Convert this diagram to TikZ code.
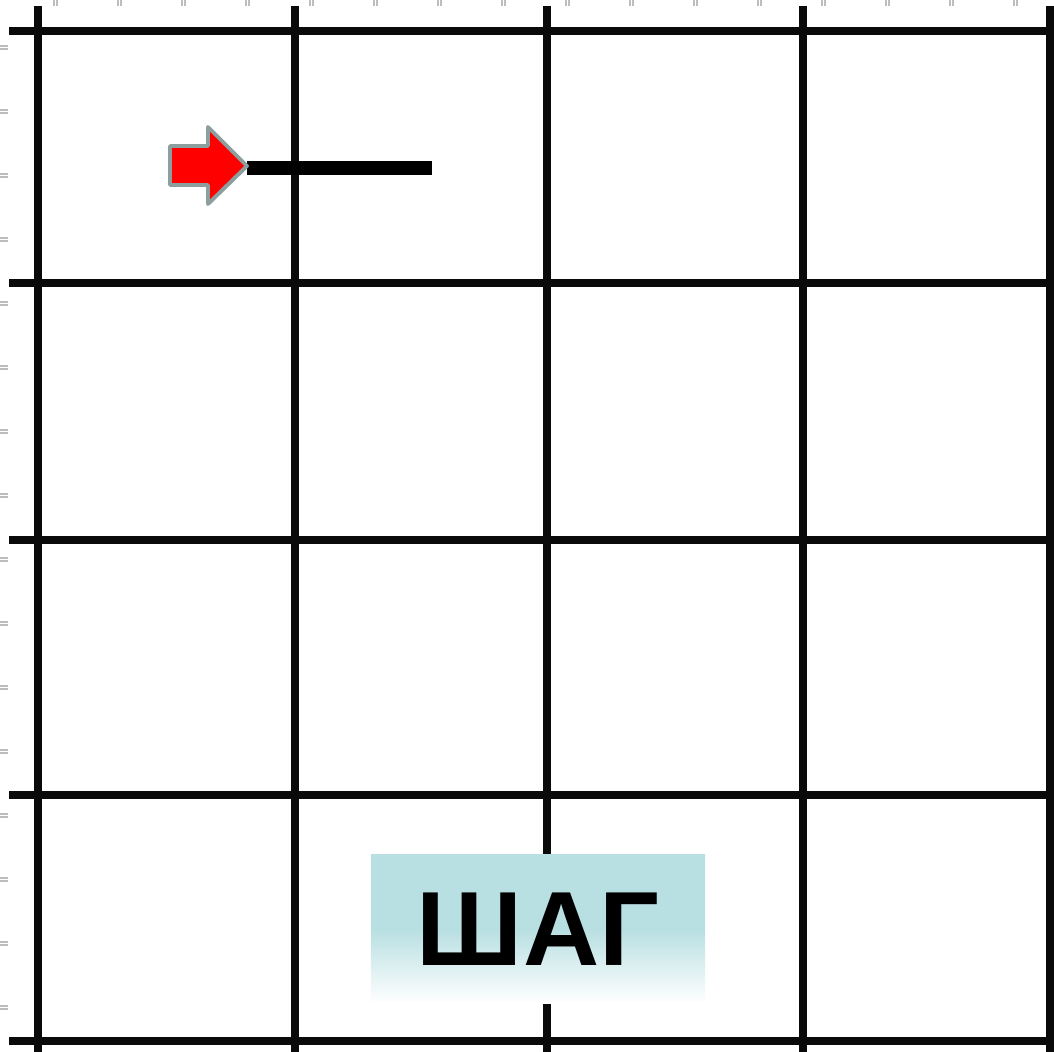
\documentclass[tikz,border=0pt]{standalone}
\usepackage{fontspec}
\setsansfont{Liberation Sans}
\usetikzlibrary{positioning}
\definecolor{gridblack}{HTML}{0A0A0A}
\definecolor{tickgray}{HTML}{BDBDBD}
\definecolor{arrowred}{HTML}{FF0000}
\definecolor{arrowedge}{HTML}{8C9E9E}
\definecolor{labelteal}{HTML}{B8DFE2}
\tikzset{
  gridline/.style={draw=gridblack, line width=2.3pt},
  tickmark/.style={draw=tickgray, line width=0.35pt},
  % the red pointer and the trace it leaves
  blockarrow/.style={fill=arrowred, draw=arrowedge, line width=1.1pt, line join=round},
  pathline/.style={draw=black, line width=4.2pt},
  labelbox/.style={top color=labelteal, bottom color=white, middle color=labelteal,
    minimum width=3.34cm, minimum height=1.48cm, inner sep=0pt,
    font=\sffamily\bfseries\fontsize{30}{36}\selectfont, text=black},
}
\begin{document}
\begin{tikzpicture}[x=0.01cm,y=-0.01cm]
  \useasboundingbox (0,0) rectangle (1054,1052);
  % ruler ticks
  \foreach \k in {0,...,15} {
    \draw[tickmark] ({54+64*\k},0) -- ++(0,6) ({57+64*\k},0) -- ++(0,6);
    \draw[tickmark] (0,{46+64*\k}) -- ++(8,0) (0,{49+64*\k}) -- ++(8,0);
  }
  % grid
  \foreach \x in {38,295,547,803,1050} {\draw[gridline] (\x,6) -- (\x,1052);}
  \foreach \y in {31,283,540,795,1041} {\draw[gridline] (9,\y) -- (1054,\y);}
  % pointer and its line
  \coordinate (tip) at (247,166);
  \coordinate (lineend) at (432,168);
  \draw[pathline] (tip |- lineend) -- (lineend);
  \draw[blockarrow] (170,146) -- (208,146) -- (208,127) -- (tip)
    -- (208,204) -- (208,185) -- (170,185) -- cycle;
  % label
  \node[labelbox] (shag) at (538,929) {ШАГ};
\end{tikzpicture}
\end{document}
